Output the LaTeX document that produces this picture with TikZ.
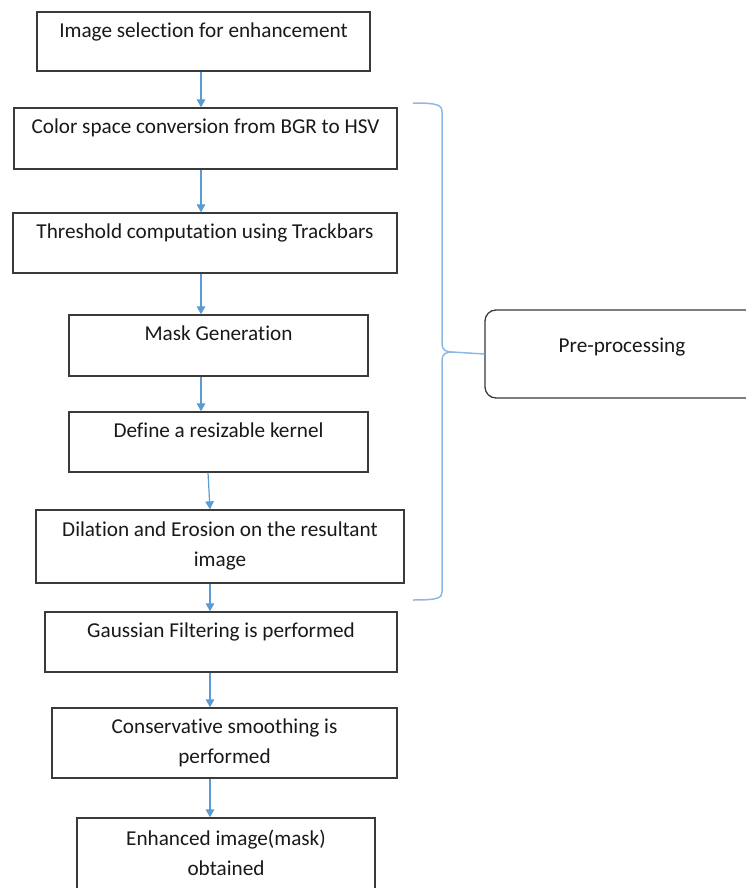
\documentclass[tikz,border=0pt]{standalone}
\usepackage{fontspec}
\setmainfont[Ligatures=NoCommon]{Carlito}
\usetikzlibrary{arrows.meta,calc}
\definecolor{arrblue}{HTML}{5B9BD5}
\definecolor{braceblue}{HTML}{8DB8E4}
\definecolor{boxgray}{HTML}{3A3A3A}
\tikzset{
  box/.style={draw=boxgray, line width=1.3pt, rectangle, inner sep=0pt, fill=white},
  rbox/.style={box, rounded corners=11pt},
  txt/.style={inner sep=0pt, font=\fontsize{21.2}{30}\selectfont, text=black!90, align=center, anchor=base},
  arr/.style={draw=arrblue, line width=1.2pt, -{Triangle[width=8.5pt,length=8pt]}},
  brc/.style={draw=braceblue, line width=1.5pt}
}
\begin{document}
\begin{tikzpicture}[x=1pt,y=-1pt]
\useasboundingbox (0,0) rectangle (746,888);
\clip (0,0) rectangle (746,888);
% boxes
\node[box, minimum width=333pt, minimum height=59pt] (b1) at (203.5,41.5) {};
\node[box, minimum width=383pt, minimum height=61pt] (b2) at (205.5,138.5) {};
\node[box, minimum width=384pt, minimum height=60pt] (b3) at (205,243) {};
\node[box, minimum width=299pt, minimum height=61pt] (b4) at (218.5,345.5) {};
\node[box, minimum width=299pt, minimum height=60pt] (b5) at (218.5,442) {};
\node[box, minimum width=368pt, minimum height=73pt] (b6) at (220,546.5) {};
\node[box, minimum width=352pt, minimum height=60pt] (b7) at (221,642) {};
\node[box, minimum width=345pt, minimum height=70pt] (b8) at (224.5,743) {};
\node[box, minimum width=298pt, minimum height=80pt] (b9) at (226,858) {};
\node[rbox, minimum width=280pt, minimum height=88pt] (pp) at (625,354) {};
% texts
\node[txt] (t1) at ([yshift=-26pt]b1.north) {Image selection for enhancement};
\node[txt] (t2) at ([yshift=-26pt]b2.north) {Color space conversion from BGR to HSV};
\node[txt] (t3) at ([yshift=-26pt]b3.north) {Threshold computation using Trackbars};
\node[txt] (t4) at ([yshift=-26pt]b4.north) {Mask Generation};
\node[txt] (t5) at ([yshift=-26pt]b5.north) {Define a resizable kernel};
\node[txt] (t6) at ([yshift=-57pt]b6.north) {Dilation and Erosion on the resultant\\image};
\node[txt] (t7) at ([yshift=-26pt]b7.north) {Gaussian Filtering is performed};
\node[txt] (t8) at ([yshift=-56pt]b8.north) {Conservative smoothing is\\performed};
\node[txt] (t9) at ([yshift=-58pt]b9.north) {Enhanced image(mask)\\obtained};
\node[txt] (tp) at (622,352) {Pre-processing};
% arrow x positions
\coordinate (xa) at (201,0);
\coordinate (xb) at (208,0);
\coordinate (xc) at (210,0);
\draw[arr] (b1.south -| xa) -- (b2.north -| xa);
\draw[arr] (b2.south -| xa) -- (b3.north -| xa);
\draw[arr] (b3.south -| xa) -- (b4.north -| xa);
\draw[arr] (b4.south -| xa) -- (b5.north -| xa);
\draw[arr] (b5.south -| xb) -- (b6.north -| xc);
\draw[arr] (b6.south -| xc) -- (b7.north -| xc);
\draw[arr] (b7.south -| xc) -- (b8.north -| xc);
\draw[arr] (b8.south -| xc) -- (b9.north -| xc);
% brace
\coordinate (bt) at (413,103);
\coordinate (bb) at (413,600);
\coordinate (btip) at (pp.west);
\draw[brc] (bt) .. controls (438,103) and (442,105) .. (442,112)
  -- (442,344) .. controls (442,350) and (446,352) .. (452,352) -- (btip);
\draw[brc] (452,352) .. controls (446,352) and (442,354) .. (442,360)
  -- (442,592) .. controls (442,598) and (438,600) .. (bb);
\end{tikzpicture}
\end{document}
